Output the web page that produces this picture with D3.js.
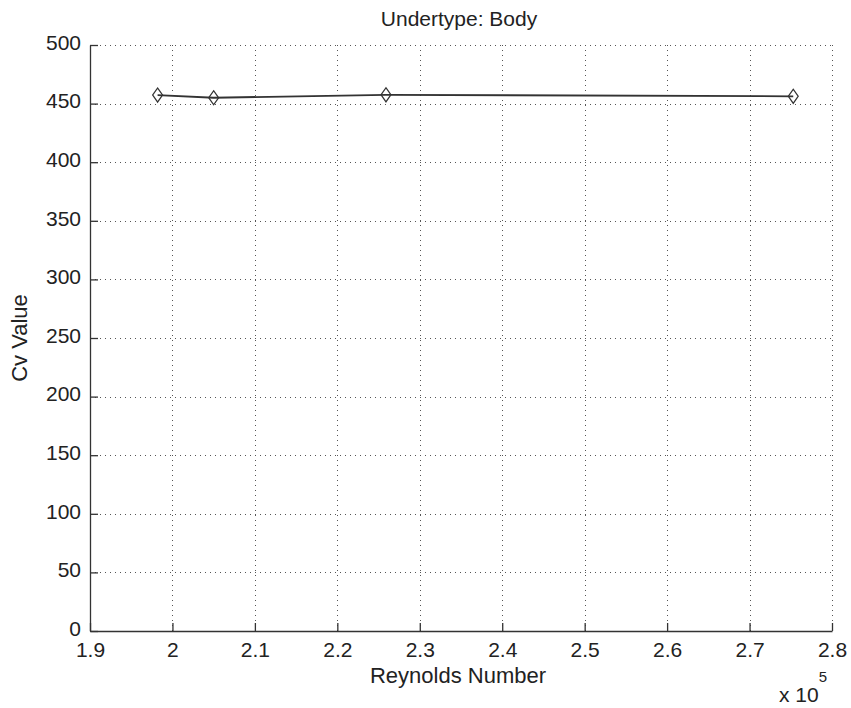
<!DOCTYPE html>
<html>
<head>
<meta charset="utf-8">
<script src="https://cdn.jsdelivr.net/npm/d3@7"></script>
<style>
  body { margin: 0; background: #fff; }
  text { font-family: "Liberation Sans", Arial, sans-serif; fill: #222; }
</style>
</head>
<body>
<svg id="canvas"></svg>
<script>
/***********************************************************************/
// Data (Reynolds number in units of 1e5)

var reynolds = [1.982, 2.050, 2.259, 2.753];
var cvValues = [457.3, 455.0, 457.5, 456.2];
var xTicks = [1.9, 2.0, 2.1, 2.2, 2.3, 2.4, 2.5, 2.6, 2.7, 2.8];
var yTicks = [0, 50, 100, 150, 200, 250, 300, 350, 400, 450, 500];

var titleText = 'Undertype: Body';
var xLabel = 'Reynolds Number';
var yLabel = 'Cv Value';

/***********************************************************************/
// Layout

var width = 851, height = 708;
var margin = { left: 90, right: 19, top: 45, bottom: 77 };
var plotW = width - margin.left - margin.right;
var plotH = height - margin.top - margin.bottom;

var svg = d3.select('#canvas').attr('width', width).attr('height', height);
var g = svg.append('g').attr('transform', 'translate(' + margin.left + ',' + margin.top + ')');

var xScale = d3.scaleLinear().domain([1.9, 2.8]).range([0, plotW]);
var yScale = d3.scaleLinear().domain([0, 500]).range([plotH, 0]);

/***********************************************************************/
// Grid

g.selectAll('.vgrid').data(xTicks.slice(1)).enter().append('line')
  .attr('x1', d => Math.round(xScale(d)) + 0.5).attr('x2', d => Math.round(xScale(d)) + 0.5)
  .attr('y1', 0).attr('y2', plotH)
  .style('stroke', '#555').style('stroke-width', 1).style('stroke-dasharray', '1,4');

g.selectAll('.hgrid').data(yTicks.slice(1)).enter().append('line')
  .attr('y1', d => Math.round(yScale(d)) + 0.5).attr('y2', d => Math.round(yScale(d)) + 0.5)
  .attr('x1', 0).attr('x2', plotW)
  .style('stroke', '#555').style('stroke-width', 1).style('stroke-dasharray', '1,4');

/***********************************************************************/
// Axes

var xAxis = d3.axisBottom(xScale).tickValues(xTicks).tickSizeInner(-8).tickSizeOuter(0).tickPadding(11)
  .tickFormat(d => d3.format('.1f')(d).replace(/\.0$/, ''));
var yAxis = d3.axisLeft(yScale).tickValues(yTicks).tickSizeInner(-8).tickSizeOuter(0).tickPadding(13);

var gx = g.append('g').attr('transform', 'translate(0,' + plotH + ')').call(xAxis);
var gy = g.append('g').call(yAxis);

[gx, gy].forEach(ax => {
  ax.select('.domain').style('stroke', '#333').style('stroke-width', 1.3);
  ax.selectAll('.tick line').style('stroke', '#333').style('stroke-width', 1.3);
  ax.selectAll('.tick text').style('font-size', '21px').style('fill', '#222')
    .style('font-family', '"Liberation Sans", Arial, sans-serif');
});
gy.selectAll('.tick text').attr('dx', '4px').attr('dy', '0.2em');

/***********************************************************************/
// Line and markers

var line = d3.line().x(d => xScale(d[0])).y(d => yScale(d[1]));
var pts = reynolds.map((r, i) => [r, cvValues[i]]);

g.append('path').datum(pts).attr('d', line)
  .style('fill', 'none').style('stroke', '#333').style('stroke-width', 1.8);

var diamond = d3.symbol().type(d3.symbolDiamond).size(70);
g.selectAll('.marker').data(pts).enter().append('path')
  .attr('d', diamond)
  .attr('transform', d => 'translate(' + xScale(d[0]) + ',' + yScale(d[1]) + ') scale(1.1,0.9)')
  .style('fill', 'none').style('stroke', '#333').style('stroke-width', 1.2);

/***********************************************************************/
// Labels

svg.append('text').attr('x', 459).attr('y', 26)
  .attr('text-anchor', 'middle').style('font-size', '21px').text(titleText);

svg.append('text').attr('x', 458).attr('y', 683)
  .attr('text-anchor', 'middle').style('font-size', '22px').text(xLabel);

svg.append('text').attr('transform', 'translate(27,' + (margin.top + plotH / 2) + ') rotate(-90)')
  .attr('text-anchor', 'middle').style('font-size', '22px').text(yLabel);

var expo = svg.append('text').attr('x', 779).attr('y', 702).style('font-size', '21px');
expo.append('tspan').text('x 10');
expo.append('tspan').attr('dy', -20).style('font-size', '15px').text('5');
</script>
</body>
</html>
